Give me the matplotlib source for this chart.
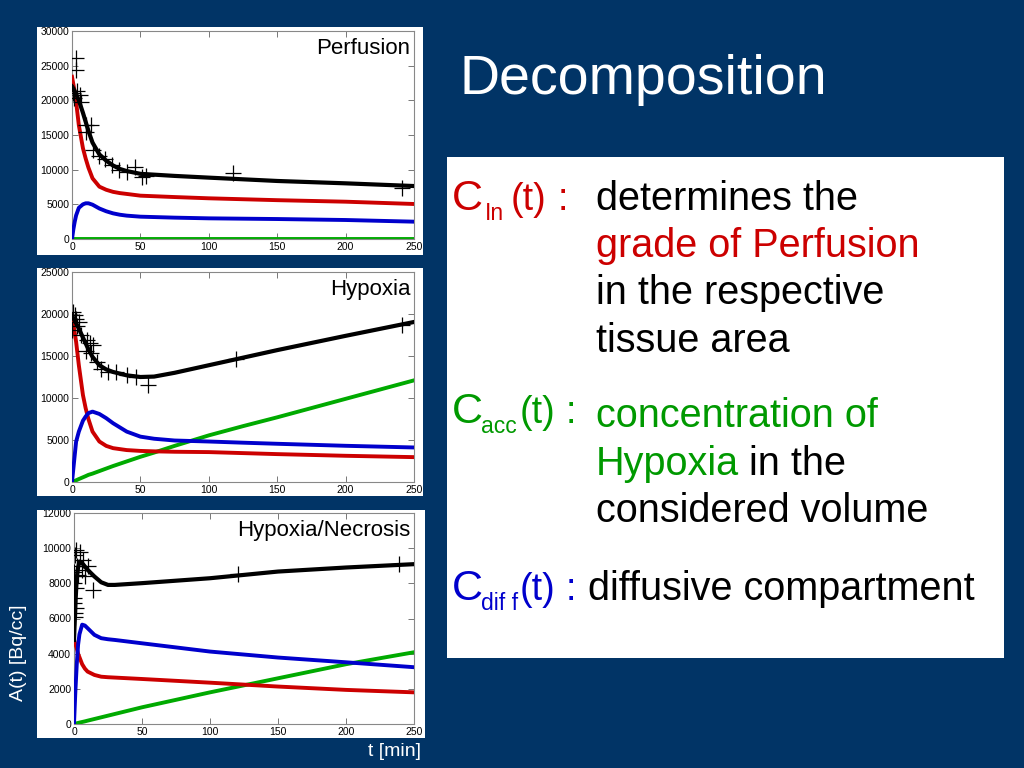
import matplotlib
matplotlib.use("Agg")
import matplotlib.pyplot as plt
from matplotlib.patches import Rectangle

plt.rcParams['font.family'] = ['Liberation Sans', 'DejaVu Sans']

# ---------------- data ----------------
# Perfusion panel
p_t = [0, 1, 2, 3, 5, 8, 10, 12, 15, 20, 25, 30, 35, 40, 50, 75, 100, 150, 200, 250]
p_total = [22000, 21700, 21300, 20900, 20000, 18200, 16900, 15600, 13900, 12200, 11300, 10600, 10100, 9800, 9400, 9100, 8850, 8370, 8030, 7640]
p_in = [23400, 22300, 21250, 19800, 16400, 13100, 11600, 10300, 8750, 7550, 7100, 6800, 6620, 6500, 6250, 6050, 5870, 5600, 5380, 5050]
p_diff = [0, 1400, 2500, 3400, 4500, 5000, 5150, 5150, 4950, 4400, 4000, 3700, 3500, 3370, 3220, 3080, 2980, 2880, 2740, 2500]
p_acc = [0, 0, 0, 0, 0, 0, 0, 0, 0, 0, 0, 0, 0, 0, 0, 0, 0, 0, 0, 0]
p_meas_t = [3.2, 2.7, 0.7, 5.6, 6.8, 10.5, 14, 10.5, 15.4, 20, 24, 29, 34, 40, 46, 51, 54, 118, 241, 1.5, 4]
p_meas_v = [26060, 24400, 21000, 20770, 19800, 16400, 16400, 15500, 12800, 11900, 11600, 10700, 9950, 9700, 10400, 9000, 9100, 9570, 7300, 20300, 21300]

# Hypoxia panel
h_t = [0, 3, 5, 8, 10, 12, 15, 20, 25, 30, 40, 50, 60, 75, 100, 125, 150, 200, 250]
h_total = [19800, 18900, 18260, 17200, 16500, 15800, 14900, 13900, 13400, 13100, 12700, 12500, 12550, 13000, 13900, 14800, 15700, 17400, 19050]
h_in = [19800, 16700, 13900, 10350, 8770, 7500, 6000, 4820, 4300, 4030, 3800, 3700, 3650, 3600, 3560, 3440, 3320, 3120, 2960]
h_diff = [0, 4800, 6000, 7300, 7800, 8200, 8380, 8100, 7600, 7000, 6000, 5400, 5150, 4940, 4820, 4680, 4550, 4310, 4110]
h_acc = [0, 200, 350, 560, 700, 850, 1000, 1300, 1600, 1900, 2450, 3000, 3500, 4300, 5550, 6650, 7700, 9900, 12100]
h_meas_t = [2, 3.2, 5, 0, 6.8, 11, 13, 15.4, 10.5, 14, 18, 21.5, 26, 32, 40, 47, 55.6, 120, 241, 1, 4]
h_meas_v = [19840, 19450, 19050, 18060, 17470, 16880, 16600, 16280, 15570, 15300, 14300, 13500, 13100, 13100, 12700, 12500, 11500, 14700, 18650, 20200, 18600]

# Hypoxia/Necrosis panel
n_t = [0, 1, 2, 3, 4, 6, 8, 10, 15, 20, 25, 30, 50, 100, 150, 200, 250]
n_total = [4780, 6770, 8290, 8900, 9240, 9150, 8960, 8770, 8390, 8060, 7910, 7910, 8010, 8290, 8670, 8900, 9090]
n_in = [4780, 4550, 4310, 4000, 3800, 3400, 3150, 2980, 2790, 2690, 2660, 2640, 2560, 2350, 2130, 1940, 1800]
n_diff = [0, 1840, 3360, 4500, 5100, 5650, 5600, 5450, 5070, 4880, 4820, 4780, 4590, 4120, 3780, 3510, 3230]
n_acc = [0, 20, 40, 60, 80, 115, 150, 190, 285, 380, 475, 570, 950, 1800, 2600, 3400, 4080]
n_meas_t = [1.5, 4.4, 6.4, 2.4, 0, 5.6, 10.5, 8, 13.7, 0, 0, 1.5, 0, 0, 1.5, 0.5, 0.5, 120.7, 239, 1, 3]
n_meas_v = [9900, 9810, 9340, 8960, 8670, 8770, 8960, 8390, 7630, 8390, 8010, 7720, 7150, 6870, 6580, 6310, 6090, 8520, 9090, 9610, 8480]

panel_names = ["Perfusion", "Hypoxia", "Hypoxia/Necrosis"]
y_max = [30000, 25000, 12000]
y_step = [5000, 5000, 2000]
x_ticks = [0, 50, 100, 150, 200, 250]

# ---------------- style ----------------
NAVY = '#013466'
C_BLACK = '#000000'
C_RED = '#cc0000'
C_BLUE = '#0000cc'
C_GREEN = '#00aa00'
T_RED = '#cc0000'
T_GREEN = '#009900'
T_BLUE = '#0000cc'

W, H = 1024, 768
fig = plt.figure(figsize=(W / 100, H / 100), dpi=100)
fig.patch.set_facecolor(NAVY)


def fx(x):
    return x / W


def fy(y):
    return 1 - y / H


def rect_px(x0, y0, x1, y1, **kw):
    r = Rectangle((fx(x0), fy(y1)), fx(x1) - fx(x0), fy(y0) - fy(y1),
                  transform=fig.transFigure, **kw)
    fig.add_artist(r)
    return r


panel_white = [(37, 27, 423, 255), (37, 268, 423, 496), (37, 510, 425, 738)]
panel_axes = [(72, 31, 414, 239), (72, 272, 414, 482), (74, 513, 414, 724)]

datasets = [
    (p_t, p_total, p_in, p_diff, p_acc, p_meas_t, p_meas_v),
    (h_t, h_total, h_in, h_diff, h_acc, h_meas_t, h_meas_v),
    (n_t, n_total, n_in, n_diff, n_acc, n_meas_t, n_meas_v),
]

for i in range(3):
    wr = rect_px(*panel_white[i], facecolor='white', edgecolor='none', zorder=0)
    x0, y0, x1, y1 = panel_axes[i]
    ax = fig.add_axes([fx(x0), fy(y1), fx(x1) - fx(x0), fy(y0) - fy(y1)])
    ax.set_facecolor('white')
    t, tot, cin, cdiff, cacc, mt, mv = datasets[i]
    ax.plot(t, cacc, color=C_GREEN, lw=2.8, zorder=2)
    ax.plot(t, cin, color=C_RED, lw=2.8, zorder=3)
    ax.plot(t, cdiff, color=C_BLUE, lw=2.8, zorder=3)
    ax.plot(t, tot, color=C_BLACK, lw=3.0, zorder=4)
    ax.plot(mt, mv, linestyle='none', marker='+', color='black',
            markersize=11, markeredgewidth=0.9, zorder=5)
    ax.set_xlim(0, 250)
    ax.set_ylim(0, y_max[i])
    ax.set_xticks(x_ticks)
    ax.set_yticks(list(range(0, y_max[i] + 1, y_step[i])))
    ax.tick_params(direction='in', top=True, right=True, length=4,
                   width=0.7, color='#777777', labelsize=7.5, pad=2,
                   labelcolor='black')
    for s in ax.spines.values():
        s.set_color('#888888')
        s.set_linewidth(0.8)
    for lab in ax.get_xticklabels() + ax.get_yticklabels():
        lab.set_clip_path(wr)
    ax.text(0.99, 0.965, panel_names[i], transform=ax.transAxes,
            ha='right', va='top', fontsize=16, color='black')

# axis labels (white on navy)
fig.text(fx(19), fy(653), "A(t) [Bq/cc]", rotation=90, color='white',
         fontsize=14, ha='center', va='center')
fig.text(fx(421), fy(752), "t [min]", color='white', fontsize=14,
         ha='right', va='center')

# title
fig.text(fx(459), fy(80), "Decomposition", color='white', fontsize=40,
         ha='left', va='center')

# text box
rect_px(447, 157, 1004, 658, facecolor='white', edgecolor='none', zorder=0)

BODY = 28.5


def c_label(sub, color, base, x_sub, x_paren, x_colon):
    fig.text(fx(452), fy(base), "C", color=color, fontsize=31,
             ha='left', va='baseline')
    fig.text(fx(x_sub), fy(base + 10), sub, color=color, fontsize=16.5,
             ha='left', va='baseline')
    fig.text(fx(x_paren), fy(base), "(t)", color=color, fontsize=27,
             ha='left', va='baseline')
    fig.text(fx(x_colon), fy(base), ":", color=color, fontsize=27,
             ha='left', va='baseline')


c_label("In", T_RED, 210, 485, 511, 558)
fig.text(fx(596), fy(210), "determines the", color='black', fontsize=BODY,
         ha='left', va='baseline')
fig.text(fx(596), fy(257), "grade of Perfusion", color=T_RED, fontsize=BODY,
         ha='left', va='baseline')
fig.text(fx(596), fy(304), "in the respective", color='black', fontsize=BODY,
         ha='left', va='baseline')
fig.text(fx(596), fy(352), "tissue area", color='black', fontsize=BODY,
         ha='left', va='baseline')

c_label("acc", T_GREEN, 423, 481, 520, 566)
fig.text(fx(596), fy(427), "concentration of", color=T_GREEN, fontsize=BODY,
         ha='left', va='baseline')
t1 = fig.text(fx(596), fy(475), "Hypoxia", color=T_GREEN, fontsize=BODY,
              ha='left', va='baseline')
fig.canvas.draw()
bb = t1.get_window_extent(fig.canvas.get_renderer())
fig.text(fx(bb.x1 + 10), fy(475), "in the", color='black', fontsize=BODY,
         ha='left', va='baseline')
fig.text(fx(596), fy(522), "considered volume", color='black', fontsize=BODY,
         ha='left', va='baseline')

c_label("dif f", T_BLUE, 600, 481, 520, 566)
fig.text(fx(588), fy(600), "diffusive compartment", color='black',
         fontsize=BODY, ha='left', va='baseline')

fig.savefig("out.png", dpi=100, facecolor=NAVY)
